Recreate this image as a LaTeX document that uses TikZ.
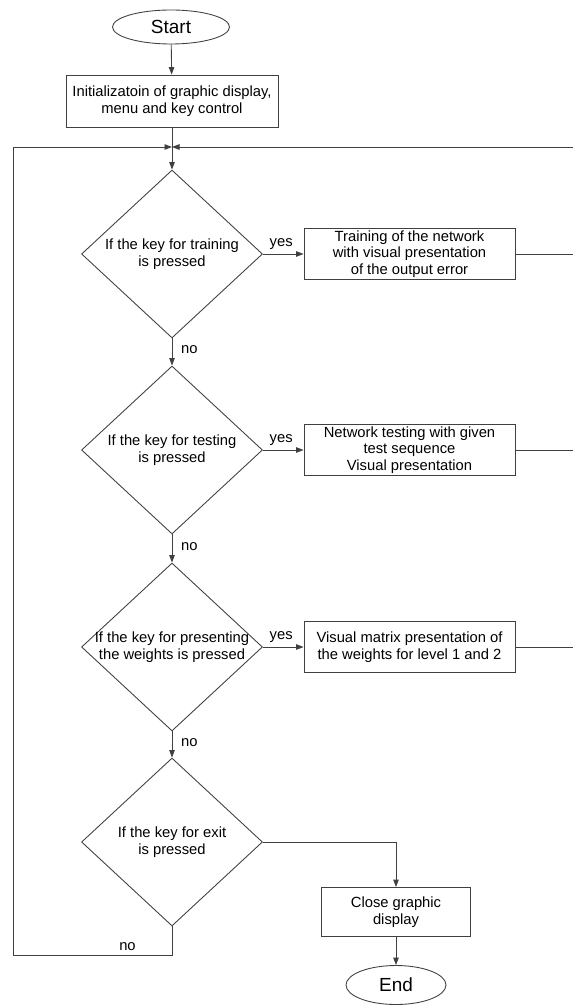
\documentclass[tikz,border=0pt]{standalone}
\usepackage{fontspec}
\setmainfont{Liberation Sans}
\usetikzlibrary{shapes.geometric, positioning, arrows.meta, calc}

\begin{document}
\begin{tikzpicture}[x=0.02cm,y=-0.02cm,
    line/.style={draw=black!75,line width=0.5pt},
    arr/.style={line,-{Triangle[length=1.5mm,width=1.1mm]}},
    txt/.style={font=\fontsize{8.4}{9.4}\selectfont},
    box/.style={txt,draw=black!75,line width=0.5pt,rectangle,align=center,inner sep=1pt,minimum width=4.22cm,minimum height=1.02cm},
    test/.style={txt,draw=black!75,line width=0.5pt,diamond,align=center,inner sep=-3pt,minimum width=3.62cm,minimum height=3.36cm},
    term/.style={draw=black!75,line width=0.5pt,ellipse,inner sep=0pt,font=\fontsize{10.8}{12}\selectfont},
    lbl/.style={txt,inner sep=1pt}]
  \useasboundingbox (0,0) rectangle (573,1006);

  % main column
  \node[term,minimum width=2.34cm,minimum height=0.68cm] (start) at (171,27) {Start};
  \node[box,minimum width=4.24cm,minimum height=1.04cm] (init) at (172,101) {Initializatoin of graphic display,\\menu and key control};
  \coordinate (join) at (172,147);
  \node[test] (train) at (172,254) {If the key for training\\is pressed};
  \node[test] (testing) at (172,450) {If the key for testing\\is pressed};
  \node[test] (weights) at (172,647) {If the key for presenting\\the weights is pressed};
  \node[test] (exit) at (172,842) {If the key for exit\\is pressed};

  % actions
  \node[box] (trainbox) at (409.5,254) {Training of the network\\with visual presentation\\of the output error};
  \node[box] (testbox) at (409.5,450) {Network testing with given\\test sequence\\Visual presentation};
  \node[box] (weightbox) at (409.5,647) {Visual matrix presentation of\\the weights for level 1 and 2};
  \node[box,minimum width=2.98cm,minimum height=0.98cm] (close) at (396,912) {Close graphic\\display};
  \node[term,minimum width=2.0cm,minimum height=0.78cm] (stop) at (396,985) {End};

  \coordinate (rtop) at (578,147);
  \coordinate (lbot) at (13,955);

  \draw[arr] (start) -- (init);
  \draw[line] (init) -- (join);
  \draw[arr] (join) -- (train);
  \draw[arr] (train) -- node[lbl,right=4pt,pos=0.43] {no} (testing);
  \draw[arr] (testing) -- node[lbl,right=4pt,pos=0.43] {no} (weights);
  \draw[arr] (weights) -- node[lbl,right=4pt,pos=0.43] {no} (exit);
  \draw[arr] (train) -- node[lbl,above=1pt,pos=0.45] {yes} (trainbox);
  \draw[arr] (testing) -- node[lbl,above=1pt,pos=0.45] {yes} (testbox);
  \draw[arr] (weights) -- node[lbl,above=1pt,pos=0.45] {yes} (weightbox);
  \draw[arr] (exit.east) -| (close.north);
  \draw[arr] (close) -- (stop);

  % loops back to the top
  \foreach \b in {trainbox,testbox,weightbox}
    \draw[line] (\b.east) -| (rtop);
  \draw[arr] (rtop) -- (join);
  \draw[arr] (exit.south) |- node[lbl,above=1pt,pos=0.64] {no} (lbot) |- (join);
\end{tikzpicture}
\end{document}
